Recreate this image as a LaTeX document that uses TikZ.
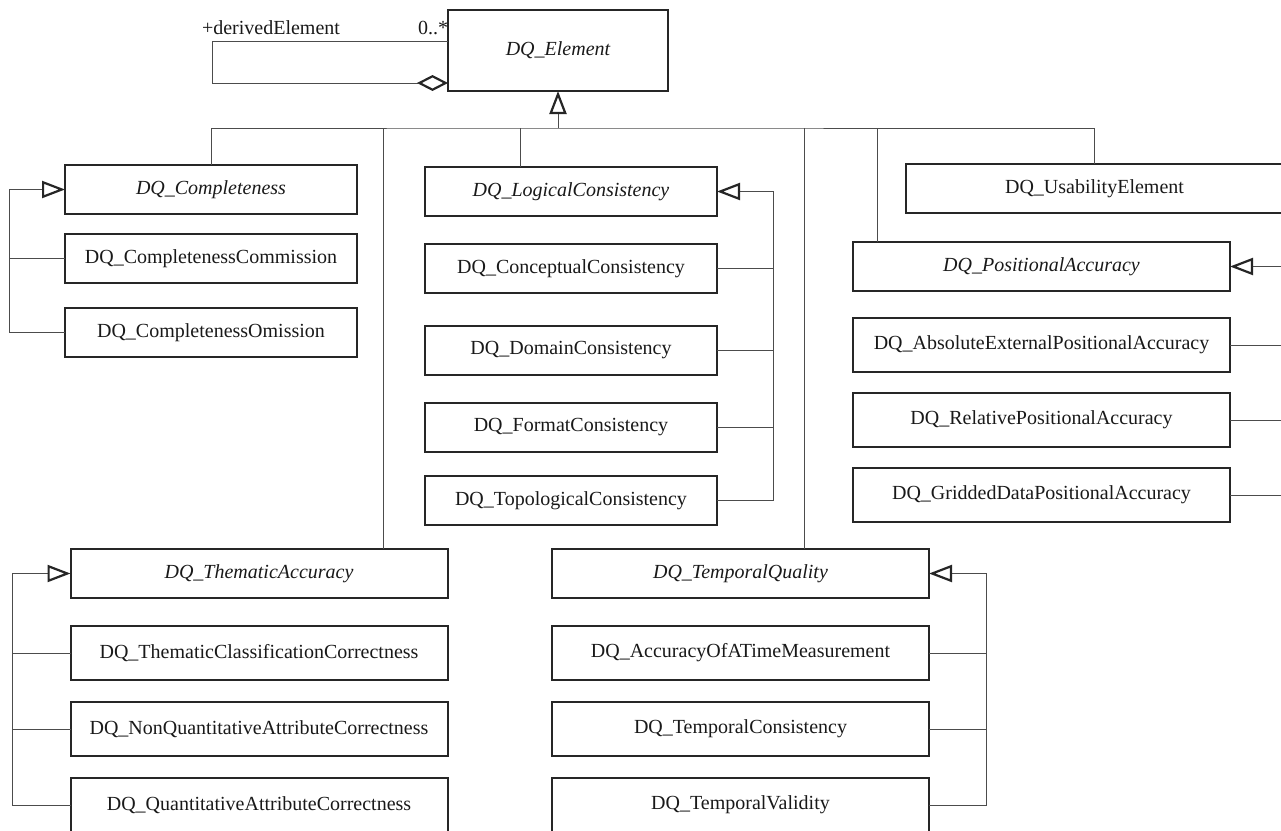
\documentclass[tikz,border=0pt]{standalone}
\usepackage{fontspec}
\setmainfont{Liberation Serif}
\usetikzlibrary{arrows.meta, positioning}

\begin{document}
\begin{tikzpicture}[x=1pt,y=-1pt,
        every node/.style={font=\fontsize{20}{24}\selectfont, text=black!90},
        cls/.style={draw=black!85, line width=2pt, inner sep=0pt, outer sep=0pt, minimum height=49pt},
        abstr/.style={cls, font=\fontsize{20}{24}\selectfont\itshape},
        narrow/.style={minimum width=292pt},
        wide/.style={minimum width=377pt},
        tall/.style={minimum height=54pt},
        link/.style={draw=black!70, line width=1pt},
        gen/.style={link, -{Triangle[open, length=23pt, width=17pt, line width=2.2pt, color=black!85]}},
        agg/.style={link, -{Diamond[open, length=31pt, width=16pt, line width=2.2pt, color=black!85]}}]

    \useasboundingbox (0,0) rectangle (1281,830);
    \clip (0,0) rectangle (1281,830);

    % root class and its self association
    \node[abstr, minimum width=220pt, minimum height=81pt] (dq_el) at (558,50.5) {DQ\_Element};
    \node (dq_role) at (271,28) {+derivedElement};
    \node (dq_mult) at (433,28) {0..*};
    \draw[agg] ([yshift=9.5pt]dq_el.west) -- ++(-236,0) -- ++(0,42) -- ([yshift=-32.5pt]dq_el.west);

    % completeness
    \node[abstr, narrow] (dq_comp) at (211,189.5) {DQ\_Completeness};
    \node[cls, narrow, below=20pt of dq_comp] (dq_cmpc) {DQ\_CompletenessCommission};
    \node[cls, narrow, below=25pt of dq_cmpc] (dq_cmpo) {DQ\_CompletenessOmission};

    % logical consistency
    \node[abstr, narrow] (dq_logic) at (571,191.5) {DQ\_LogicalConsistency};
    \node[cls, narrow, below=28pt of dq_logic] (dq_conc) {DQ\_ConceptualConsistency};
    \node[cls, narrow, below=33pt of dq_conc] (dq_dom) {DQ\_DomainConsistency};
    \node[cls, narrow, below=28pt of dq_dom] (dq_fmt) {DQ\_FormatConsistency};
    \node[cls, narrow, below=24pt of dq_fmt] (dq_topo) {DQ\_TopologicalConsistency};

    % usability and positional accuracy
    \node[cls, wide] (dq_usab) at (1094.5,188.5) {DQ\_UsabilityElement};
    \node[abstr, wide] (dq_pos) at (1041.5,266.5) {DQ\_PositionalAccuracy};
    \node[cls, wide, tall, below=27pt of dq_pos] (dq_abs) {DQ\_AbsoluteExternalPositionalAccuracy};
    \node[cls, wide, tall, below=21pt of dq_abs] (dq_rel) {DQ\_RelativePositionalAccuracy};
    \node[cls, wide, tall, below=21pt of dq_rel] (dq_grid) {DQ\_GriddedDataPositionalAccuracy};

    % thematic accuracy
    \node[abstr, wide] (dq_them) at (259,573.5) {DQ\_ThematicAccuracy};
    \node[cls, wide, tall, below=28pt of dq_them] (dq_tcc) {DQ\_ThematicClassificationCorrectness};
    \node[cls, wide, tall, below=22pt of dq_tcc] (dq_nqa) {DQ\_NonQuantitativeAttributeCorrectness};
    \node[cls, wide, tall, below=22pt of dq_nqa] (dq_qa) {DQ\_QuantitativeAttributeCorrectness};

    % temporal quality
    \node[abstr, wide] (dq_temp) at (740.5,573.5) {DQ\_TemporalQuality};
    \node[cls, wide, tall, below=28pt of dq_temp] (dq_atm) {DQ\_AccuracyOfATimeMeasurement};
    \node[cls, wide, tall, below=22pt of dq_atm] (dq_tcons) {DQ\_TemporalConsistency};
    \node[cls, wide, tall, below=22pt of dq_tcons] (dq_tval) {DQ\_TemporalValidity};

    % generalisation to DQ_Element
    \coordinate (bus) at ([yshift=-37pt]dq_el.south);
    \draw[gen] (bus) -- (dq_el.south);
    \draw[link] (dq_comp.north) |- (bus) -| (dq_usab.north);
    \foreach \n/\dx in {dq_logic/-51, dq_pos/-164.5, dq_them/124, dq_temp/63.5} {
      \coordinate (\n-top) at ([xshift=\dx pt]\n.north);
      \draw[link] (\n-top) -- (\n-top |- bus);
    }

    % generalisations inside the groups
    \draw[link] (dq_cmpc.west) -- ++(-56,0);
    \draw[gen] (dq_cmpo.west) -- ++(-56,0) |- (dq_comp.west);

    \foreach \n in {dq_conc, dq_dom, dq_fmt}
      \draw[link] (\n.east) -- ++(56,0);
    \draw[gen] (dq_topo.east) -- ++(56,0) |- (dq_logic.east);

    \foreach \n in {dq_abs, dq_rel}
      \draw[link] (\n.east) -- ++(70,0);
    \draw[gen] (dq_grid.east) -- ++(70,0) |- (dq_pos.east);

    \foreach \n in {dq_tcc, dq_nqa}
      \draw[link] (\n.west) -- ++(-58,0);
    \draw[gen] (dq_qa.west) -- ++(-58,0) |- (dq_them.west);

    \foreach \n in {dq_atm, dq_tcons}
      \draw[link] (\n.east) -- ++(57,0);
    \draw[gen] (dq_tval.east) -- ++(57,0) |- (dq_temp.east);
\end{tikzpicture}
\end{document}
